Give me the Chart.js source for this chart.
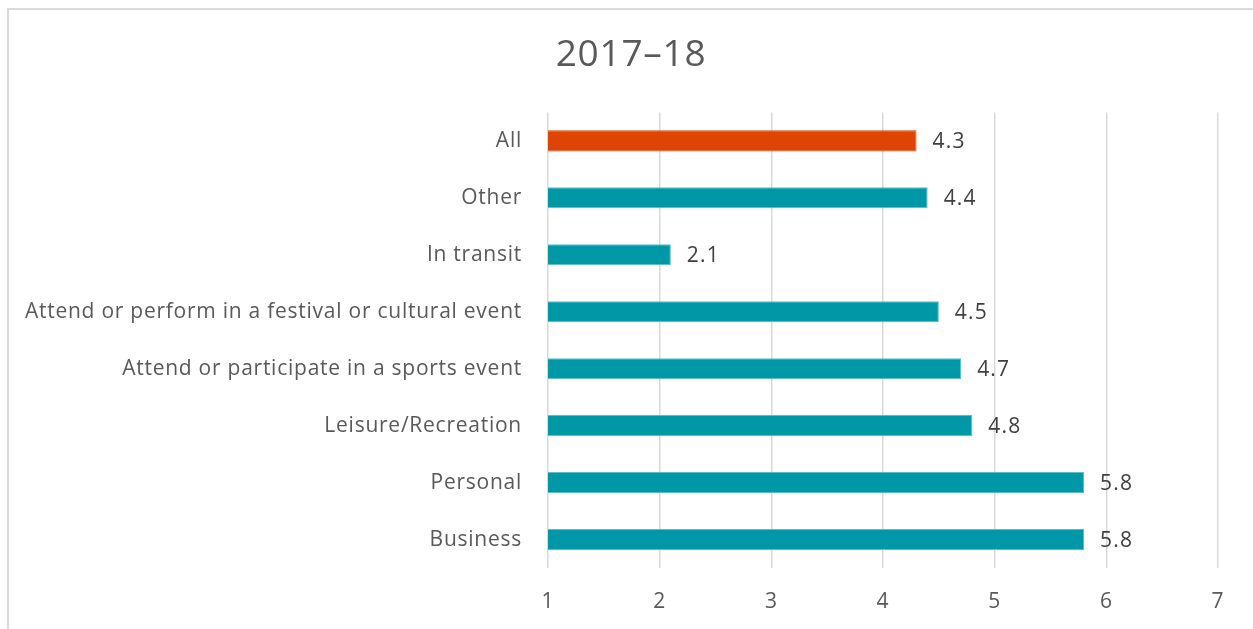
<!DOCTYPE html>
<html>
<head>
<meta charset="utf-8">
<script src="https://cdn.jsdelivr.net/npm/chart.js@4"></script>
<style>
html,body{margin:0;padding:0;background:#fff;overflow:hidden;}
#frame{position:absolute;left:7px;top:8px;width:1400px;height:800px;border-left:2px solid #d9d9d9;border-top:2px solid #d9d9d9;box-sizing:border-box;}
#wrap{position:absolute;left:0;top:0;width:1253px;height:629px;}
</style>
</head>
<body>
<div id="frame"></div>
<div id="wrap"><canvas id="c" width="1253" height="629"></canvas></div>
<script>
const categories = ["All","Other","In transit","Attend or perform in a festival or cultural event","Attend or participate in a sports event","Leisure/Recreation","Personal","Business"];
const values = [4.3,4.4,2.1,4.5,4.7,4.8,5.8,5.8];
const xTicks = [1,2,3,4,5,6,7];
const titleText = "2017–18";

const FONT = "'Open Sans', sans-serif";
const teal = "#0097A7", orange = "#DD4405";
const barColors = categories.map(c => c === "All" ? orange : teal);
const borderColors = categories.map(c => c === "All" ? orange : "#5CBCC8");
const LS = "0.75px";

const spacing = {
  id: 'spacing',
  beforeInit(chart) { chart.ctx.letterSpacing = LS; },
  beforeLayout(chart) { chart.ctx.letterSpacing = LS; },
  afterLayout(chart) { chart.scales.y.left = 0; },
  beforeDraw(chart) { chart.ctx.letterSpacing = LS; }
};

const valueLabels = {
  id: 'valueLabels',
  afterDatasetsDraw(chart) {
    const ctx = chart.ctx;
    const meta = chart.getDatasetMeta(0);
    ctx.save();
    ctx.letterSpacing = "1.2px";
    ctx.font = "21px " + FONT;
    ctx.fillStyle = "#404040";
    ctx.textAlign = "left";
    ctx.textBaseline = "middle";
    meta.data.forEach((bar, i) => {
      ctx.fillText(values[i].toFixed(1), bar.x + 16, bar.y + 1);
    });
    ctx.restore();
  }
};

new Chart(document.getElementById('c'), {
  type: 'bar',
  data: {
    labels: categories,
    datasets: [{
      data: values,
      backgroundColor: barColors,
      borderColor: borderColors,
      borderWidth: 1,
      categoryPercentage: 1,
      barPercentage: 0.37
    }]
  },
  options: {
    indexAxis: 'y',
    responsive: false,
    animation: false,
    layout: { padding: { left: 44, right: 35, top: 0, bottom: 0 } },
    plugins: {
      legend: { display: false },
      tooltip: { enabled: false },
      title: {
        display: true,
        text: titleText,
        color: "#595959",
        font: { family: FONT, size: 37, weight: 'normal' },
        padding: { top: 33, bottom: 35 }
      }
    },
    scales: {
      x: {
        min: xTicks[0],
        max: xTicks[xTicks.length - 1],
        afterBuildTicks(scale) { scale.ticks = xTicks.map(v => ({ value: v })); },
        afterFit(scale) { scale.height = 61; },
        grid: { color: "#d9d9d9", lineWidth: 1.5, drawTicks: false },
        border: { display: false },
        ticks: { color: "#595959", font: { family: FONT, size: 21 }, padding: 21 }
      },
      y: {
        afterFit(scale) { scale.width = 504; },
        grid: { display: false, drawTicks: false },
        border: { display: false },
        ticks: { color: "#595959", font: { family: FONT, size: 21 }, padding: 26 }
      }
    }
  },
  plugins: [spacing, valueLabels]
});
</script>
</body>
</html>
